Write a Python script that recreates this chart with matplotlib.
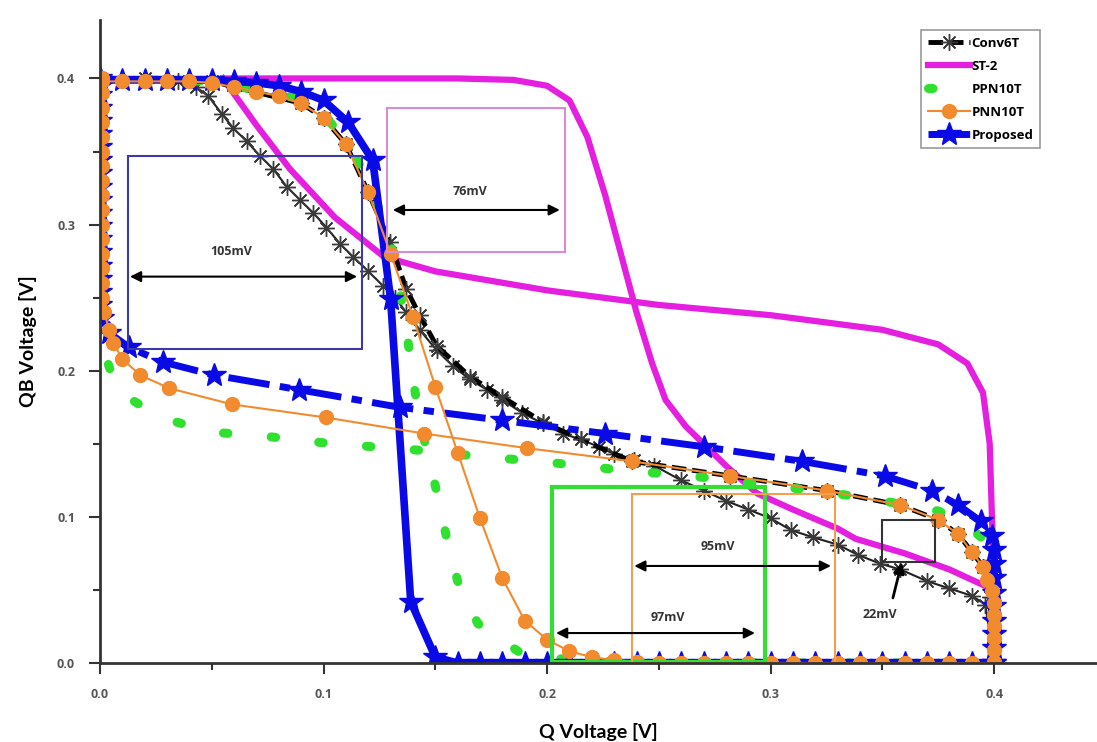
import numpy as np
import matplotlib
matplotlib.use("Agg")
import matplotlib.pyplot as plt
from matplotlib.patches import Rectangle

# ---- data (Q [V], QB [V]) ----
# Conv6T, curve A (asterisks along the diagonal)
conv_a_x = [0.0, 0.02, 0.035, 0.043, 0.0484, 0.0544, 0.0596, 0.0656, 0.0716, 0.0775, 0.0835, 0.0894,
            0.0954, 0.1013, 0.1073, 0.1132, 0.120, 0.1267, 0.132, 0.137, 0.143, 0.1506, 0.158, 0.1655,
            0.173, 0.180, 0.189, 0.198, 0.207, 0.215, 0.223, 0.230, 0.239, 0.248, 0.260, 0.270, 0.280,
            0.290, 0.300, 0.309, 0.319, 0.330, 0.339, 0.349, 0.358, 0.370, 0.380, 0.390, 0.396, 0.400]
conv_a_y = [0.400, 0.400, 0.398, 0.394, 0.388, 0.376, 0.366, 0.357, 0.347, 0.338, 0.326, 0.317,
            0.308, 0.298, 0.287, 0.278, 0.268, 0.258, 0.250, 0.240, 0.228, 0.214, 0.203, 0.194,
            0.187, 0.180, 0.171, 0.164, 0.157, 0.153, 0.148, 0.143, 0.139, 0.135, 0.125, 0.118, 0.111,
            0.105, 0.099, 0.091, 0.086, 0.081, 0.074, 0.068, 0.064, 0.056, 0.051, 0.046, 0.040, 0.000]
# Conv6T, curve B (thick dashed, mostly under PNN10T)
conv_b_x = [0.0, 0.05, 0.09, 0.10, 0.11, 0.12, 0.1297, 0.137, 0.143, 0.1506, 0.1655, 0.180, 0.198,
            0.215, 0.238, 0.282, 0.325, 0.358, 0.375, 0.384, 0.390, 0.395, 0.398, 0.400]
conv_b_y = [0.400, 0.398, 0.383, 0.373, 0.355, 0.322, 0.288, 0.256, 0.238, 0.217, 0.196, 0.182, 0.165,
            0.153, 0.138, 0.128, 0.118, 0.108, 0.098, 0.088, 0.076, 0.066, 0.045, 0.000]

# ST-2
st2_a_x = [0.055, 0.08, 0.12, 0.16, 0.185, 0.200, 0.210, 0.218, 0.226, 0.233, 0.240, 0.247, 0.253,
           0.262, 0.270, 0.280, 0.294, 0.310, 0.330, 0.338, 0.36, 0.38, 0.397]
st2_a_y = [0.400, 0.400, 0.400, 0.400, 0.399, 0.395, 0.385, 0.360, 0.320, 0.280, 0.240, 0.205, 0.180,
           0.162, 0.150, 0.135, 0.116, 0.105, 0.092, 0.085, 0.075, 0.064, 0.052]
st2_b_x = [0.055, 0.070, 0.085, 0.105, 0.127, 0.15, 0.20, 0.25, 0.30, 0.35, 0.375, 0.388, 0.395,
           0.398, 0.399, 0.400]
st2_b_y = [0.400, 0.368, 0.338, 0.305, 0.278, 0.268, 0.255, 0.245, 0.238, 0.228, 0.218, 0.205, 0.185,
           0.150, 0.100, 0.058]

# PPN10T
ppn_a_x = [0.0, 0.05, 0.09, 0.10, 0.11, 0.12, 0.13, 0.137, 0.139, 0.142, 0.146, 0.151, 0.155, 0.160,
           0.169, 0.188, 0.210, 0.25, 0.30, 0.35, 0.40]
ppn_a_y = [0.400, 0.398, 0.386, 0.375, 0.358, 0.330, 0.290, 0.230, 0.205, 0.175, 0.146, 0.115, 0.086,
           0.056, 0.027, 0.007, 0.002, 0.0, 0.0, 0.0, 0.0]
ppn_b_x = [0.0, 0.0, 0.001, 0.008, 0.027, 0.050, 0.075, 0.098, 0.122, 0.148, 0.171, 0.197, 0.220,
           0.270, 0.319, 0.343, 0.375, 0.385, 0.395, 0.400, 0.400]
ppn_b_y = [0.400, 0.250, 0.216, 0.186, 0.168, 0.158, 0.155, 0.151, 0.148, 0.145, 0.141, 0.138, 0.134,
           0.127, 0.118, 0.113, 0.104, 0.098, 0.085, 0.050, 0.0]

# PNN10T
pnn_a_x = [0.001, 0.01, 0.02, 0.03, 0.04, 0.05, 0.06, 0.07, 0.08, 0.09, 0.10, 0.11, 0.12, 0.13,
           0.14, 0.15, 0.16, 0.17, 0.18, 0.19, 0.20, 0.21, 0.22, 0.23, 0.24, 0.25, 0.26, 0.27, 0.28,
           0.29, 0.30, 0.31, 0.32, 0.33, 0.34, 0.35, 0.36, 0.37, 0.38, 0.39, 0.40]
pnn_a_y = [0.398, 0.398, 0.398, 0.398, 0.398, 0.397, 0.394, 0.391, 0.388, 0.383, 0.373, 0.355, 0.322,
           0.280, 0.237, 0.189, 0.144, 0.099, 0.058, 0.029, 0.016, 0.008, 0.004, 0.002, 0.001, 0.0,
           0.0, 0.0, 0.0, 0.0, 0.0, 0.0, 0.0, 0.0, 0.0, 0.0, 0.0, 0.0, 0.0, 0.0, 0.0]
pnn_b_x = [0.001, 0.001, 0.001, 0.001, 0.001, 0.001, 0.001, 0.001, 0.001, 0.001, 0.001, 0.001,
           0.001, 0.001, 0.001, 0.001, 0.002, 0.004, 0.006, 0.010, 0.018, 0.031, 0.059, 0.101, 0.145,
           0.191, 0.238, 0.282, 0.325, 0.358, 0.375, 0.384, 0.390, 0.395, 0.397, 0.399, 0.400,
           0.400, 0.400, 0.400, 0.400, 0.400]
pnn_b_y = [0.400, 0.390, 0.380, 0.370, 0.360, 0.350, 0.340, 0.330, 0.320, 0.310, 0.300, 0.290,
           0.280, 0.270, 0.260, 0.250, 0.240, 0.228, 0.219, 0.208, 0.197, 0.188, 0.177, 0.168, 0.157,
           0.147, 0.138, 0.128, 0.118, 0.108, 0.098, 0.088, 0.076, 0.066, 0.057, 0.049, 0.041,
           0.033, 0.025, 0.017, 0.009, 0.001]

# Proposed
prop_a_x = [0.0, 0.01, 0.02, 0.03, 0.04, 0.05, 0.06, 0.07, 0.08, 0.09, 0.10, 0.111, 0.122, 0.130,
            0.139, 0.150, 0.16, 0.17, 0.18, 0.19, 0.20, 0.21, 0.22, 0.23, 0.24, 0.25, 0.26, 0.27,
            0.28, 0.29, 0.30, 0.31, 0.32, 0.33, 0.34, 0.35, 0.36, 0.37, 0.38, 0.39, 0.40]
prop_a_y = [0.399, 0.399, 0.399, 0.399, 0.399, 0.399, 0.398, 0.397, 0.395, 0.391, 0.385, 0.370, 0.344,
            0.249, 0.042, 0.004, 0.0, 0.0, 0.0, 0.0, 0.0, 0.0, 0.0, 0.0, 0.0, 0.0, 0.0, 0.0,
            0.0, 0.0, 0.0, 0.0, 0.0, 0.0, 0.0, 0.0, 0.0, 0.0, 0.0, 0.0, 0.0]
prop_b_x = [0.400, 0.400, 0.400, 0.400, 0.400, 0.400, 0.400, 0.400, 0.400, 0.399, 0.394, 0.384,
            0.372, 0.351, 0.314, 0.270, 0.226, 0.180, 0.134, 0.089, 0.051, 0.028, 0.013, 0.004,
            0.001, 0.0, 0.0, 0.0, 0.0, 0.0, 0.0, 0.0, 0.0, 0.0, 0.0, 0.0, 0.0, 0.0, 0.0, 0.0, 0.0,
            0.0, 0.0, 0.0]
prop_b_y = [0.000, 0.010, 0.020, 0.029, 0.039, 0.048, 0.058, 0.068, 0.077, 0.087, 0.097, 0.108,
            0.118, 0.128, 0.138, 0.148, 0.157, 0.166, 0.175, 0.187, 0.197, 0.206, 0.216, 0.226,
            0.236, 0.245, 0.254, 0.263, 0.272, 0.281, 0.290, 0.299, 0.308, 0.317, 0.326, 0.335,
            0.344, 0.353, 0.362, 0.371, 0.380, 0.389, 0.395, 0.400]

# noise-margin boxes: (x0, y0, x1, y1, label, colour)
snm_boxes = [
    (0.0125, 0.2151, 0.1172, 0.3466, "105mV", "#3b3ba8"),
    (0.1284, 0.2815, 0.2080, 0.3800, "76mV", "#d98bd9"),
    (0.2021, 0.0007, 0.2974, 0.1205, "97mV", "#33dd33"),
    (0.2380, 0.0000, 0.3290, 0.1158, "95mV", "#f2a050"),
    (0.3497, 0.0692, 0.3734, 0.0980, "22mV", "#333333"),
]

fig = plt.figure(figsize=(10.97, 7.42), dpi=100)
ax = fig.add_axes([100 / 1097, 79 / 742, 997 / 1097, 643 / 742])

blue = "#0a0ae6"
orange = "#f28a2e"
green = "#2fe02f"
magenta = "#e41fe0"

ax.plot(st2_a_x, st2_a_y, color=magenta, lw=4.5, zorder=2, label="ST-2")
ax.plot(st2_b_x, st2_b_y, color=magenta, lw=4.5, zorder=2)

ax.plot(conv_a_x, conv_a_y, color="#222222", lw=1.5, marker=(8, 2, 0), ms=12,
        mec="#3a3a3a", mew=1.0, zorder=3)
ax.plot(conv_b_x, conv_b_y, color="black", lw=3.5, ls=(0, (3, 1.2)), marker=(8, 2, 0),
        ms=12, mec="#3a3a3a", mew=1.0, zorder=3, label="Conv6T")

ax.plot(ppn_a_x, ppn_a_y, color=green, lw=6.5, ls=(0, (0.5, 4.8)), dash_capstyle="round",
        zorder=4, label="PPN10T")
ax.plot(ppn_b_x, ppn_b_y, color=green, lw=6.5, ls=(0, (0.5, 4.8)), dash_capstyle="round", zorder=4)

ax.plot(prop_a_x, prop_a_y, color=blue, lw=5.5, marker="*", ms=18, zorder=5)
ax.plot(prop_b_x, prop_b_y, color=blue, lw=5, ls=(0, (6, 1.5, 1.5, 1.5)), marker="*", ms=18,
        zorder=5, label="Proposed")

ax.plot(pnn_a_x, pnn_a_y, color=orange, lw=1.5, marker="o", ms=10, mec=orange, zorder=6,
        label="PNN10T")
ax.plot(pnn_b_x, pnn_b_y, color=orange, lw=1.5, marker="o", ms=10, mec=orange, zorder=6)

# SNM boxes and arrows
for x0, y0, x1, y1, txt, col in snm_boxes:
    lw = 3 if txt == "97mV" else 1.5
    ax.add_patch(Rectangle((x0, y0), x1 - x0, y1 - y0, fill=False, ec=col, lw=lw, zorder=7,
                           clip_on=False))

arrow_kw = dict(arrowstyle="<|-|>", color="black", lw=1.5, mutation_scale=16, shrinkA=0, shrinkB=0)
ax.annotate("", xy=(0.1150, 0.2644), xytext=(0.0134, 0.2644), arrowprops=arrow_kw, zorder=8)
ax.annotate("", xy=(0.2057, 0.3100), xytext=(0.1310, 0.3100), arrowprops=arrow_kw, zorder=8)
ax.annotate("", xy=(0.2930, 0.0205), xytext=(0.2040, 0.0205), arrowprops=arrow_kw, zorder=8)
ax.annotate("", xy=(0.3270, 0.0664), xytext=(0.2390, 0.0664), arrowprops=arrow_kw, zorder=8)
ax.annotate("", xy=(0.3587, 0.0690), xytext=(0.3547, 0.0445),
            arrowprops=dict(arrowstyle="-|>", color="black", lw=2, mutation_scale=16,
                            shrinkA=0, shrinkB=0), zorder=8)

txt_kw = dict(fontsize=9, fontweight="bold", color="#333333", ha="center", va="center",
              family="Open Sans", zorder=9)
ax.text(0.0585, 0.2815, "105mV", **txt_kw)
ax.text(0.1655, 0.3226, "76mV", **txt_kw)
ax.text(0.2540, 0.0310, "97mV", **txt_kw)
ax.text(0.2764, 0.0800, "95mV", **txt_kw)
ax.text(0.3490, 0.0330, "22mV", **txt_kw)

# axes styling
ax.set_xlim(0, 0.446)
ax.set_ylim(0, 0.44)
for s in ["top", "right"]:
    ax.spines[s].set_visible(False)
for s in ["left", "bottom"]:
    ax.spines[s].set_color("#333333")
    ax.spines[s].set_linewidth(2)
    ax.spines[s].set_zorder(10)
ax.set_xticks([0.0, 0.1, 0.2, 0.3, 0.4])
ax.set_xticks([0.05, 0.15, 0.25, 0.35], minor=True)
ax.set_yticks([0.0, 0.1, 0.2, 0.3, 0.4])
ax.set_yticks([0.05, 0.15, 0.25, 0.35], minor=True)
ax.set_xticklabels(["0.0", "0.1", "0.2", "0.3", "0.4"])
ax.set_yticklabels(["0.0", "0.1", "0.2", "0.3", "0.4"])
ax.tick_params(which="major", direction="out", length=8, width=1.5, color="#333333",
               labelsize=9, labelcolor="#555555", pad=10)
ax.tick_params(which="minor", direction="out", length=5, width=1.5, color="#333333")
for lab in ax.get_xticklabels() + ax.get_yticklabels():
    lab.set_fontweight("bold")
    lab.set_family("Open Sans")

ax.set_xlabel("Q Voltage [V]", fontsize=14, fontweight="bold", family="Lato", labelpad=16)
ax.set_ylabel("QB Voltage [V]", fontsize=14, fontweight="bold", family="Lato", labelpad=14)

handles, labels = ax.get_legend_handles_labels()
order = ["Conv6T", "ST-2", "PPN10T", "PNN10T", "Proposed"]
hmap = dict(zip(labels, handles))
leg = ax.legend([hmap[k] for k in order], order, loc="upper left", bbox_to_anchor=(0.820, 0.990),
                numpoints=1, handlelength=3.2, handletextpad=0.1, labelspacing=0.75,
                borderpad=0.5, borderaxespad=0.3, fancybox=False, framealpha=1,
                prop={"family": "Open Sans", "weight": "bold", "size": 9.5})
leg.get_frame().set_edgecolor("#999999")
leg.get_frame().set_linewidth(1.2)
leg.set_zorder(20)

fig.savefig("out.png", dpi=100)
